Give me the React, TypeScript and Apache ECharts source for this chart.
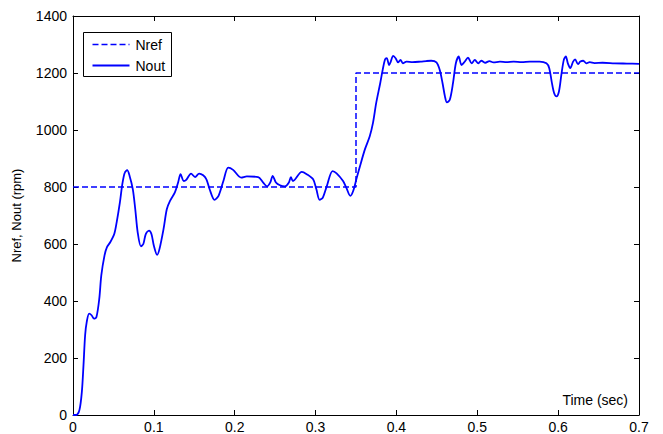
import React, { useEffect, useRef } from "react";
import * as echarts from "echarts";

const xTicks = { min: 0, max: 0.7, interval: 0.1 };
const yTicks = { min: 0, max: 1400, interval: 200 };

const nrefPoints: [number, number][] = [
  [0, 800],
  [0.35, 800],
  [0.35, 1200],
  [0.7, 1200],
];

const noutPoints: [number, number][] = [
  [0, 0], [0.004, 0], [0.008, 18], [0.011, 83], [0.013, 176], [0.015, 280], [0.017, 327],
  [0.02, 356], [0.023, 350], [0.026, 338], [0.029, 344], [0.0325, 408], [0.035, 490],
  [0.039, 560], [0.042, 589], [0.046, 606], [0.051, 635], [0.054, 676], [0.058, 746],
  [0.061, 810], [0.064, 850], [0.067, 859], [0.07, 839], [0.074, 792], [0.077, 722],
  [0.08, 641], [0.084, 592], [0.087, 600], [0.09, 635], [0.094, 647], [0.097, 635],
  [0.1, 594], [0.104, 562], [0.107, 583], [0.112, 653], [0.116, 722], [0.12, 751],
  [0.126, 781], [0.13, 816], [0.133, 845], [0.137, 821], [0.14, 825], [0.146, 847],
  [0.151, 835], [0.156, 847], [0.161, 841], [0.165, 827], [0.169, 792], [0.175, 755],
  [0.18, 769], [0.186, 821], [0.192, 868], [0.198, 860], [0.208, 833], [0.215, 837],
  [0.229, 835], [0.235, 816], [0.24, 802], [0.244, 816], [0.247, 839], [0.251, 816],
  [0.256, 806], [0.262, 802], [0.267, 816], [0.2695, 835], [0.272, 821], [0.283, 853],
  [0.289, 845], [0.297, 827], [0.301, 792], [0.305, 755], [0.309, 763], [0.314, 804],
  [0.321, 856], [0.326, 848], [0.334, 821], [0.338, 798], [0.343, 769], [0.3465, 786],
  [0.351, 833], [0.355, 874], [0.361, 932], [0.367, 978], [0.371, 1025], [0.375, 1095],
  [0.38, 1165], [0.383, 1211], [0.386, 1248], [0.388, 1252], [0.391, 1228], [0.393, 1240],
  [0.396, 1260], [0.399, 1252], [0.402, 1237], [0.405, 1246], [0.408, 1234], [0.4125, 1240],
  [0.42, 1238], [0.43, 1240], [0.437, 1242], [0.443, 1243], [0.4495, 1237], [0.4535, 1211],
  [0.457, 1165], [0.46, 1118], [0.4625, 1097], [0.466, 1106], [0.47, 1165], [0.4735, 1234],
  [0.477, 1258], [0.4805, 1228], [0.4845, 1240], [0.4885, 1254], [0.493, 1234], [0.497, 1246],
  [0.501, 1234], [0.505, 1243], [0.51, 1236], [0.515, 1242], [0.52, 1237], [0.528, 1240],
  [0.536, 1238], [0.545, 1240], [0.555, 1238], [0.565, 1240], [0.577, 1240], [0.5855, 1234],
  [0.589, 1217], [0.592, 1170], [0.595, 1130], [0.598, 1118], [0.601, 1135], [0.604, 1194],
  [0.607, 1246], [0.6095, 1258], [0.612, 1234], [0.615, 1217], [0.6185, 1240], [0.621, 1248],
  [0.6245, 1231], [0.6275, 1240], [0.631, 1243], [0.635, 1234], [0.639, 1238], [0.645, 1235],
  [0.655, 1236], [0.67, 1234], [0.685, 1233], [0.7, 1232],
];

const seriesNames = ["Nref", "Nout"];
const yAxisTitle = "Nref, Nout (rpm)";
const xAxisTitle = "Time (sec)";

const FONT = "'Liberation Sans', Arial, sans-serif";
const BLUE = "#0000ff";
const DASH = [6, 3];

export default function App() {
  const ref = useRef<HTMLDivElement>(null);

  useEffect(() => {
    if (!ref.current) return;
    const chart = echarts.init(ref.current, null, { renderer: "svg" });
    const axisCommon = {
      type: "value" as const,
      axisLine: { show: true, onZero: false, lineStyle: { color: "#000", width: 1 } },
      axisTick: { show: true, inside: true, length: 5, lineStyle: { color: "#000" } },
      splitLine: { show: false },
    };
    const labelStyle = { color: "#000", fontSize: 14, fontFamily: FONT };
    chart.setOption({
      animation: false,
      backgroundColor: "#fff",
      textStyle: { fontFamily: FONT },
      grid: { left: 73, right: 24, top: 16, bottom: 17, containLabel: false },
      xAxis: [
        {
          ...axisCommon,
          position: "bottom",
          ...xTicks,
          axisLabel: { ...labelStyle, margin: 5, formatter: (v: number) => String(v) },
        },
        { ...axisCommon, position: "top", ...xTicks, axisLabel: { show: false } },
      ],
      yAxis: [
        {
          ...axisCommon,
          position: "left",
          ...yTicks,
          name: yAxisTitle,
          nameLocation: "middle",
          nameGap: 50,
          nameTextStyle: { color: "#000", fontSize: 13, fontFamily: FONT },
          axisLabel: { ...labelStyle, margin: 6, formatter: (v: number) => String(v) },
        },
        { ...axisCommon, position: "right", ...yTicks, axisLabel: { show: false } },
      ],
      graphic: [
        {
          type: "text",
          right: 35,
          top: 393,
          style: { text: xAxisTitle, fill: "#000", font: `14px ${FONT}` },
        },
        {
          type: "group",
          left: 83,
          top: 32,
          children: [
            {
              type: "rect",
              shape: { x: 0, y: 0, width: 88, height: 44 },
              style: { fill: "#fff", stroke: "#000", lineWidth: 1 },
            },
            {
              type: "line",
              shape: { x1: 9, y1: 12, x2: 46, y2: 12 },
              style: { stroke: BLUE, lineWidth: 1.5, lineDash: DASH },
            },
            {
              type: "line",
              shape: { x1: 9, y1: 33, x2: 46, y2: 33 },
              style: { stroke: BLUE, lineWidth: 1.8 },
            },
            {
              type: "text",
              x: 52,
              y: 12,
              style: { text: seriesNames[0], fill: "#000", font: `14px ${FONT}`, verticalAlign: "middle" },
            },
            {
              type: "text",
              x: 52,
              y: 33,
              style: { text: seriesNames[1], fill: "#000", font: `14px ${FONT}`, verticalAlign: "middle" },
            },
          ],
        },
      ],
      series: [
        {
          name: seriesNames[0],
          type: "line",
          data: nrefPoints,
          symbol: "none",
          showSymbol: false,
          lineStyle: { color: BLUE, width: 1.5, type: DASH },
          itemStyle: { color: BLUE },
          z: 3,
        },
        {
          name: seriesNames[1],
          type: "line",
          data: noutPoints,
          symbol: "none",
          showSymbol: false,
          smooth: 0.3,
          lineStyle: { color: BLUE, width: 1.8 },
          itemStyle: { color: BLUE },
          z: 4,
        },
      ],
    });
    return () => chart.dispose();
  }, []);

  return <div ref={ref} style={{ width: 663, height: 434, position: "absolute", left: 0, top: 0 }} />;
}
